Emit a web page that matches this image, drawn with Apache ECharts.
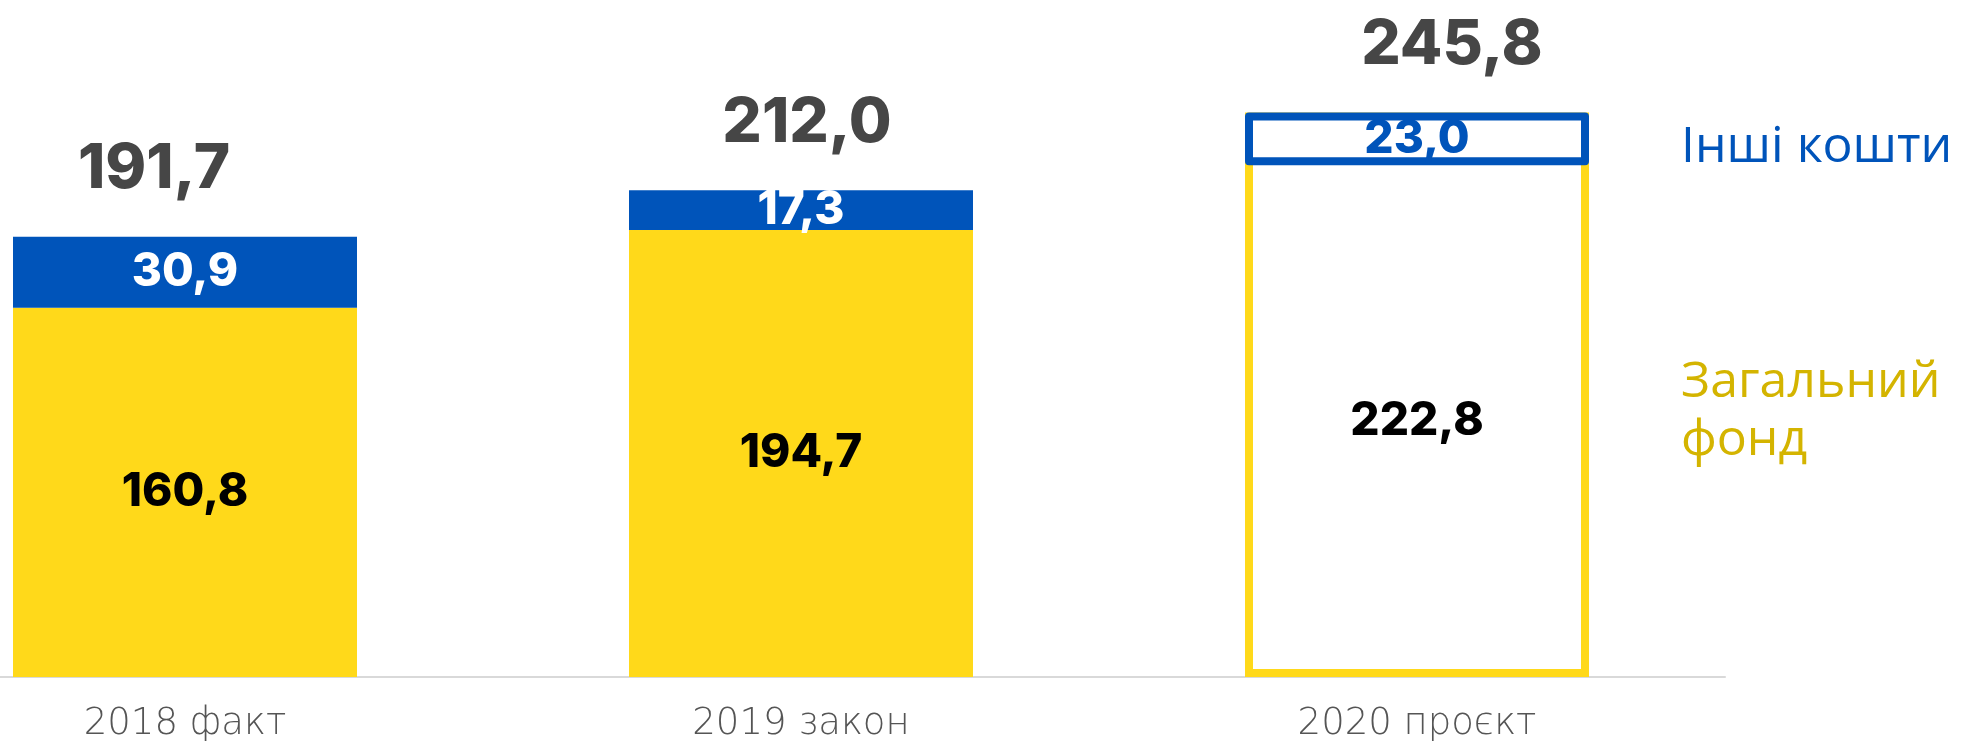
<!DOCTYPE html>
<html>
<head>
<meta charset="utf-8">
<script src="https://cdn.jsdelivr.net/npm/echarts@6/dist/echarts.min.js"></script>
<style>
html, body { margin: 0; padding: 0; background: #fff; overflow: hidden; }
/* chart is shifted left so the first bar sits near the page edge */
#chart { position: absolute; left: -123px; top: 0; width: 2087px; height: 750px; }
</style>
</head>
<body>
<div id="chart"></div>
<script>
var categories = ['2018 факт', '2019 закон', '2020 проєкт'];
var generalFund = [160.8, 194.7, 222.8];
var otherFunds = [30.9, 17.3, 23.0];
var totals = [191.7, 212.0, 245.8];
var projectIndex = 2;

var yellow = '#FFD91A';
var blue = '#0054BA';
// the total labels are not centred over the bars in the original
var totalLabelShift = [-31, 6, 35];

function fmt(v) {
    return v.toFixed(1).replace('.', ',');
}

var myChart = echarts.init(document.getElementById('chart'));

var generalData = generalFund.map(function (v, i) {
    if (i === projectIndex) {
        // frame for the project bar is drawn by the totals series
        return { value: v, itemStyle: { color: 'rgba(0,0,0,0)' } };
    }
    return v;
});

var otherData = otherFunds.map(function (v, i) {
    if (i === projectIndex) {
        return {
            value: v,
            itemStyle: { color: '#fff', borderColor: blue, borderWidth: 8, borderJoin: 'round' },
            label: { color: blue }
        };
    }
    return v;
});

var totalData = totals.map(function (v, i) {
    var item = { value: v, label: { offset: [totalLabelShift[i], 0] } };
    if (i === projectIndex) {
        item.itemStyle = { color: 'rgba(0,0,0,0)', borderColor: yellow, borderWidth: 8 };
    }
    return item;
});

var numFont = 'Inter, "Open Sans", sans-serif';

option = {
    animation: false,
    grid: {
        left: 0,
        right: 239,
        top: 34,
        bottom: 73
    },
    xAxis: {
        type: 'category',
        data: categories,
        axisLine: { lineStyle: { color: '#d9d9d9', width: 2 } },
        axisTick: { show: false },
        axisLabel: {
            color: '#555',
            fontSize: 37,
            fontWeight: 200,
            fontFamily: '"DejaVu Sans", sans-serif',
            margin: 29
        }
    },
    yAxis: {
        type: 'value',
        min: 0,
        max: 280,
        show: false,
        splitLine: { show: false }
    },
    series: [{
        name: 'Загальний фонд',
        type: 'bar',
        stack: 'budget',
        barWidth: 344,
        barGap: '-100%',
        z: 3,
        data: generalData,
        itemStyle: { color: yellow },
        label: {
            show: true,
            position: 'inside',
            color: '#000',
            fontSize: 46,
            fontWeight: 800,
            fontFamily: numFont,
            formatter: function (p) { return fmt(generalFund[p.dataIndex]); }
        }
    }, {
        name: 'Інші кошти',
        type: 'bar',
        stack: 'budget',
        barWidth: 344,
        barGap: '-100%',
        z: 3,
        data: otherData,
        itemStyle: { color: blue },
        label: {
            show: true,
            position: 'inside',
            color: '#fff',
            fontSize: 46,
            fontWeight: 800,
            fontFamily: numFont,
            formatter: function (p) { return fmt(otherFunds[p.dataIndex]); }
        }
    }, {
        name: 'Разом',
        type: 'bar',
        barWidth: 344,
        barGap: '-100%',
        z: 1,
        data: totalData,
        itemStyle: { color: 'rgba(0,0,0,0)' },
        label: {
            show: true,
            position: 'top',
            distance: 36,
            color: '#464646',
            fontSize: 62,
            fontWeight: 800,
            fontFamily: numFont,
            formatter: function (p) { return fmt(p.value); }
        }
    }],
    graphic: [{
        type: 'text',
        left: 1804,
        top: 123,
        style: {
            text: 'Інші кошти',
            fill: blue,
            fontSize: 50,
            fontFamily: '"Open Sans", sans-serif'
        }
    }, {
        type: 'text',
        left: 1804,
        top: 354,
        style: {
            text: 'Загальний\nфонд',
            fill: '#D4B400',
            fontSize: 50,
            lineHeight: 58,
            fontFamily: '"Open Sans", sans-serif'
        }
    }]
};

myChart.setOption(option);
</script>
</body>
</html>
